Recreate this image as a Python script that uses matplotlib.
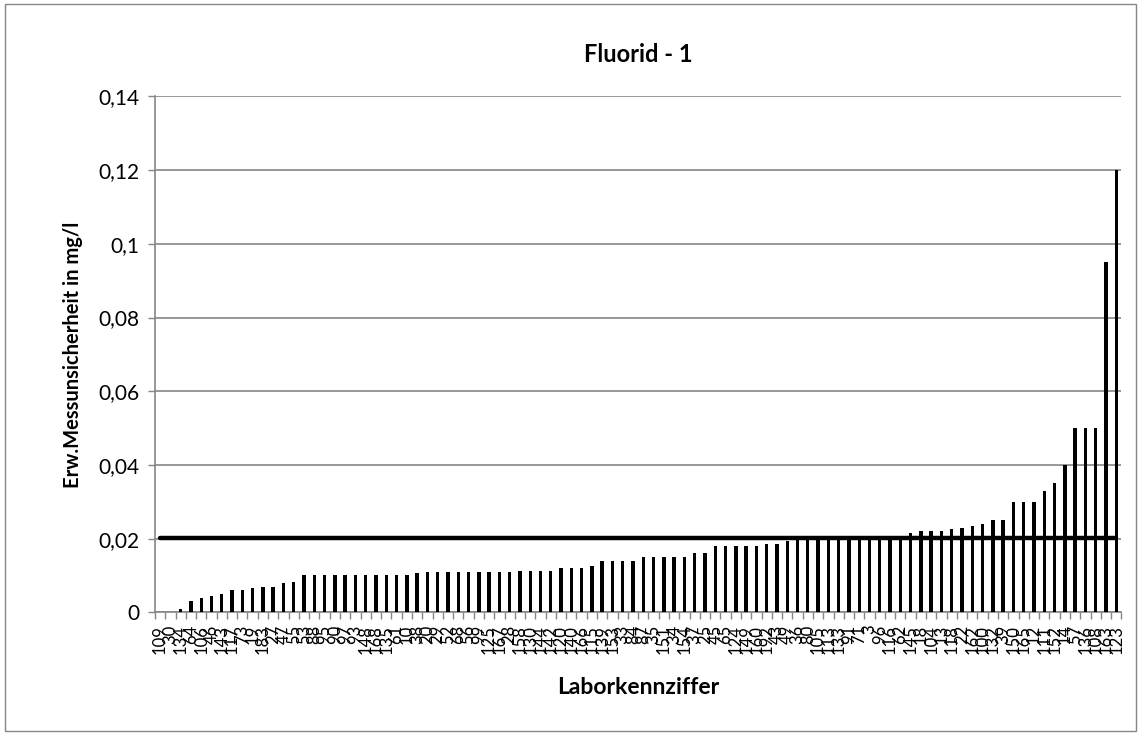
import matplotlib
matplotlib.use("Agg")
import matplotlib.pyplot as plt
from matplotlib.patches import Rectangle
import numpy as np

plt.rcParams['font.family'] = ['Lato', 'DejaVu Sans']

# Laborkennziffern (sortiert nach Messunsicherheit)
labs = ['109', '30', '134', '64', '106', '46', '143', '117', '73', '19',
        '183', '27', '47', '55', '53', '88', '95', '90', '97', '93',
        '148', '168', '135', '61', '10', '38', '20', '29', '52', '68',
        '56', '99', '125', '167', '28', '158', '130', '144', '142', '120',
        '140', '166', '115', '139', '153', '33', '84', '87', '35', '151',
        '34', '154', '37', '25', '45', '65', '124', '149', '160', '192',
        '43', '49', '36', '80', '105', '113', '133', '91', '71', '3',
        '96', '116', '62', '145', '18', '104', '13', '118', '22', '162',
        '100', '132', '39', '150', '165', '12', '111', '152', '14', '57',
        '136', '108', '163', '123']

unc = [0, 0, 0.001, 0.003, 0.004, 0.0045, 0.005, 0.006, 0.006, 0.0065,
       0.007, 0.007, 0.008, 0.0082,
       0.01, 0.01, 0.01, 0.01, 0.01, 0.01, 0.01, 0.01, 0.01, 0.01,
       0.0102, 0.0107,
       0.011, 0.011, 0.011, 0.011, 0.011, 0.011, 0.011, 0.011, 0.011,
       0.0112, 0.0112, 0.0112, 0.0112,
       0.012, 0.012, 0.012, 0.0125,
       0.014, 0.014, 0.014, 0.014,
       0.015, 0.015, 0.015, 0.015, 0.015,
       0.016, 0.016,
       0.018, 0.018, 0.018, 0.018, 0.018,
       0.0186, 0.0186, 0.0193,
       0.02, 0.02, 0.02, 0.02, 0.02, 0.02, 0.02, 0.02, 0.02, 0.02, 0.02,
       0.0216, 0.022, 0.022, 0.022, 0.0226, 0.0229, 0.0235, 0.024,
       0.025, 0.025,
       0.03, 0.03, 0.03, 0.033, 0.035, 0.04,
       0.05, 0.05, 0.05, 0.095, 0.12]

ref_val = 0.0203

fig = plt.figure(figsize=(11.41, 7.35), dpi=100)
ax = fig.add_axes([0.1358, 0.1669, 0.847, 0.7019])

x = np.arange(len(unc))
ax.bar(x, unc, width=0.33, color='black', zorder=3)
ax.plot([x[0], x[-1]], [ref_val, ref_val], color='black', linewidth=3.2,
        solid_capstyle='round', zorder=4)

ax.set_xlim(-0.5, len(unc) - 0.5)
ax.set_ylim(0, 0.14)
ax.set_yticks(np.arange(0, 0.141, 0.02))
ax.set_yticklabels(['0'] + [('%.2f' % v).replace('.', ',').rstrip('0') for v in np.arange(0.02, 0.141, 0.02)],
                   fontsize=15)
ax.grid(axis='y', color='#868686', linewidth=1.2, zorder=0)

# labels overlap like in the original (94 labels on a narrow axis)
ax.set_xticks(x)
ax.set_xticklabels(labs, rotation=90, fontsize=12)
ax.set_xticks(np.arange(-0.5, len(unc)), minor=True)
ax.tick_params(axis='x', which='major', length=0, pad=9)
ax.tick_params(axis='x', which='minor', length=5, color='#868686', width=1)
ax.tick_params(axis='y', length=5, color='#868686', width=1, pad=6)

for s in ['top', 'right']:
    ax.spines[s].set_visible(False)
for s in ['left', 'bottom']:
    ax.spines[s].set_color('#868686')
    ax.spines[s].set_linewidth(1.2)

ax.set_title('Fluorid - 1', fontsize=17, fontweight='bold', pad=25)
ax.set_ylabel('Erw.Messunsicherheit in mg/l', fontsize=14.5, fontweight='bold', labelpad=11)
ax.set_xlabel('Laborkennziffer', fontsize=16.5, fontweight='bold', labelpad=17)

fig.patches.append(Rectangle((0.004, 0.006), 0.992, 0.988, transform=fig.transFigure,
                             fill=False, edgecolor='#868686', linewidth=1))

fig.savefig('out.png', dpi=100)
